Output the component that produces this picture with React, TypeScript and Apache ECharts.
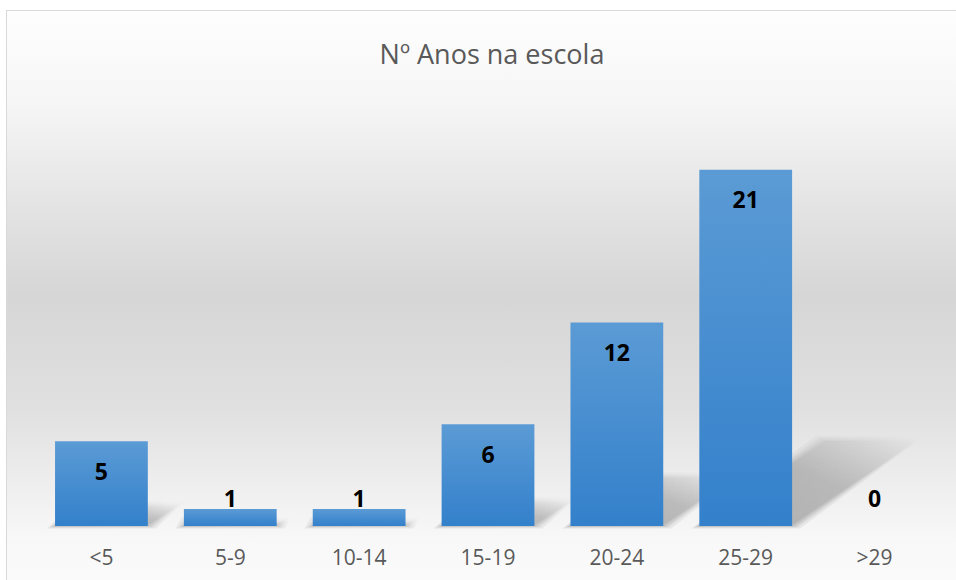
import React, { useEffect, useRef } from "react";
import * as echarts from "echarts";

const chartTitle = "Nº Anos na escola";
const categories = ["<5", "5-9", "10-14", "15-19", "20-24", "25-29", ">29"];
const values = [5, 1, 1, 6, 12, 21, 0];
const yMax = 25;

const FONT = "'Open Sans', 'Noto Sans', sans-serif";

export default function App() {
  const ref = useRef<HTMLDivElement>(null);

  useEffect(() => {
    if (!ref.current) return;
    const chart = echarts.init(ref.current, undefined, { renderer: "svg" });

    const shadowData = values.map((v, i) => [i, v]);

    chart.setOption({
      animation: false,
      backgroundColor: "transparent",
      title: {
        text: chartTitle,
        left: 487,
        textAlign: "center",
        top: 35,
        textStyle: {
          fontFamily: FONT,
          fontSize: 27,
          fontWeight: "normal",
          color: "#595959",
        },
      },
      grid: { left: 37, right: 17, top: 102, bottom: 54 },
      xAxis: {
        type: "category",
        data: categories,
        axisLine: { show: false },
        axisTick: { show: false },
        axisLabel: {
          color: "#595959",
          fontFamily: FONT,
          fontSize: 21,
          margin: 20,
        },
      },
      yAxis: {
        type: "value",
        min: 0,
        max: yMax,
        show: false,
        splitLine: { show: false },
      },
      series: [
        {
          type: "custom",
          z: 1,
          silent: true,
          data: shadowData,
          renderItem: (params: any, api: any) => {
            const idx = api.value(0);
            const v = api.value(1);
            if (!v) return null;
            const top = api.coord([idx, v]);
            const base = api.coord([idx, 0])[1];
            const band = api.size([1, 0])[0];
            const w = band * 0.72;
            const x0 = top[0] - w / 2;
            const x1 = top[0] + w / 2;
            const h = base - top[1];
            const dx = h * 0.35;
            const dy = h * 0.24;
            const layers = [8, 5, 3, 1, -1];
            const children = layers.map((k) => ({
              type: "polygon",
              shape: {
                points: [
                  [x0 - k, base + k * 0.3],
                  [x1 + k, base + k * 0.3],
                  [x1 + dx + k, base - dy - k * 0.6],
                  [x0 + dx - k, base - dy - k * 0.6],
                ],
              },
              style: {
                fill: new echarts.graphic.LinearGradient(0, 1, 1, 0, [
                  { offset: 0, color: "rgba(0,0,0,0.07)" },
                  { offset: 0.55, color: "rgba(0,0,0,0.05)" },
                  { offset: 1, color: "rgba(0,0,0,0.0)" },
                ]),
              },
            }));
            return { type: "group", children };
          },
        },
        {
          type: "bar",
          z: 2,
          barWidth: "72%",
          data: values.map((v) => {
            const small = v <= 1;
            return {
              value: v,
              label: small
                ? { position: "insideBottom", distance: 17 }
                : { position: "insideTop", distance: 18 },
            };
          }),
          itemStyle: {
            color: new echarts.graphic.LinearGradient(0, 0, 0, 1, [
              { offset: 0, color: "#5b9bd5" },
              { offset: 1, color: "#3380cb" },
            ]),
          },
          label: {
            show: true,
            color: "#000000",
            fontFamily: FONT,
            fontSize: 23,
            fontWeight: "bold",
          },
        },
      ],
    });

    return () => chart.dispose();
  }, []);

  return (
    <div
      style={{
        position: "fixed",
        left: 0,
        top: 0,
        width: 956,
        height: 580,
        background: "#ffffff",
        overflow: "hidden",
      }}
    >
      <div
        style={{
          position: "absolute",
          left: 6,
          top: 10,
          width: 960,
          height: 580,
          borderLeft: "1px solid #d9d9d9",
          borderTop: "1px solid #d9d9d9",
          background:
            "linear-gradient(to bottom, #fefefe 0%, #f6f6f6 15.8%, #e4e4e4 33.3%, #d6d6d6 49%, #e0e0e0 68.4%, #ededed 80.7%, #f8f8f8 91.2%, #fbfbfb 100%)",
        }}
      />
      <div
        ref={ref}
        style={{ position: "absolute", left: 0, top: 0, width: 956, height: 580 }}
      />
    </div>
  );
}
